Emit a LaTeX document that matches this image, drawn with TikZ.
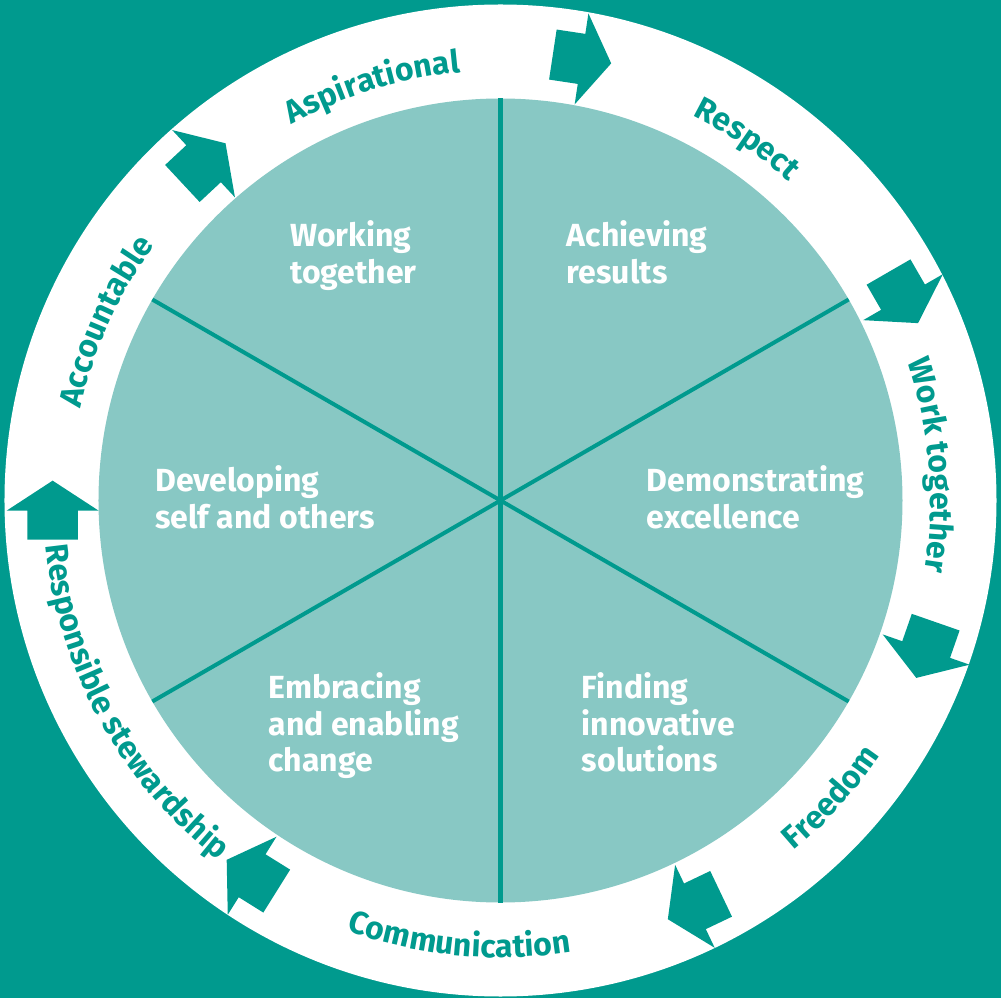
\documentclass[tikz,border=0pt]{standalone}
\usepackage{fontspec}
\setmainfont{Fira Sans}
\usetikzlibrary{decorations.text}
\definecolor{tealdark}{HTML}{009A8E}
\definecolor{teallight}{HTML}{88C8C4}
\newcommand\ringfont{\fontsize{32}{32}\selectfont\bfseries}
\tikzset{
  blockarrow/.pic={\fill[tealdark] (-29pt,-25.3pt) -- (0pt,-25.3pt) -- (0pt,-46pt) -- (30pt,0pt) -- (0pt,46pt) -- (0pt,25.3pt) -- (-29pt,25.3pt) -- cycle;},
  centertext/.style={anchor=base west, align=left, text=white, font=\fontsize{32}{36.7}\selectfont\bfseries, inner sep=0pt},
  divider/.style={draw=tealdark, line width=4pt},
}
% clockwise label, letter tops outward
\newcommand\ringout[2]{%
  \path[decorate, decoration={text along path, text align=center, text color=tealdark, text={|\ringfont|#1}}]
    ({#2+40}:430pt) arc[start angle={#2+40}, end angle={#2-40}, radius=430pt];}
% counter-clockwise label, letter tops inward
\newcommand\ringin[2]{%
  \path[decorate, decoration={text along path, text align=center, text color=tealdark, text={|\ringfont|#1}}]
    ({#2-40}:457pt) arc[start angle={#2-40}, end angle={#2+40}, radius=457pt];}
\begin{document}
\lineskiplimit=-100pt
\begin{tikzpicture}[x=1pt,y=1pt]
\useasboundingbox (-500.5pt,-497.5pt) rectangle (500.5pt,500.5pt);
\fill[tealdark] (-500.5pt,-497.5pt) rectangle (500.5pt,500.5pt);
\fill[white] (0,0) circle[radius=496pt];
\fill[teallight] (0,0) circle[radius=402pt];
\draw[divider] (90:402pt) -- (270:402pt);
\draw[divider] (30:402pt) -- (210:402pt);
\draw[divider] (150:402pt) -- (330:402pt);
% arrows
\path (79.6:449pt) pic[rotate=-8.6] {blockarrow};
\path (26.8:451pt) pic[rotate=-60] {blockarrow};
\path (-19.3:451pt) pic[rotate=-109.2] {blockarrow};
\path (-64.4:450pt) pic[rotate=-154.5] {blockarrow};
\path (-123.5:450pt) pic[rotate=148] {blockarrow};
\path (181.3:448pt) pic[rotate=90] {blockarrow};
\path (131.4:449pt) pic[rotate=43] {blockarrow};
% ring labels
\ringout{Aspirational}{107.2}
\ringout{Respect}{55.7}
\ringout{Work together}{4.7}
\ringout{Accountable}{155.6}
\ringin{Freedom}{-42}
\ringin{Communication}{-95.4}
\ringin{Responsible stewardship}{208.8}
% centre texts (anchor at baseline of the last line)
\node[centertext] (working) at (-210.5,217.1) {Working\\together};
\node[centertext] (achieving) at (66.2,217.1) {Achieving\\results};
\node[centertext] (developing) at (-345.5,-27.9) {Developing\\self and others};
\node[centertext] (demonstrating) at (146.2,-27.9) {Demonstrating\\excellence};
\node[centertext] (embracing) at (-232.2,-271.2) {Embracing\\and enabling\\change};
\node[centertext] (finding) at (81.2,-271.2) {Finding\\innovative\\solutions};
\end{tikzpicture}
\end{document}
